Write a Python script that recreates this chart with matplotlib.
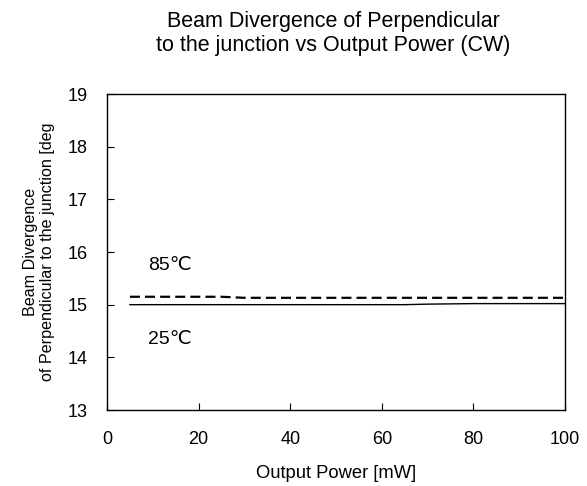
import matplotlib
matplotlib.use("Agg")
import matplotlib.pyplot as plt

plt.rcParams["font.family"] = ["Liberation Sans", "DejaVu Sans"]

# ---------------- DATA ----------------
power = [5, 10, 15, 20, 25, 30, 35, 40, 45, 50, 55, 60, 65, 70, 75, 80, 85, 90, 95, 100]
div_85 = [15.15, 15.15, 15.15, 15.15, 15.15, 15.13, 15.13, 15.13, 15.13, 15.13,
          15.13, 15.13, 15.13, 15.13, 15.13, 15.13, 15.13, 15.13, 15.13, 15.13]
div_25 = [15.0, 15.0, 15.0, 15.0, 15.0, 15.0, 15.0, 15.0, 15.0, 15.0,
          15.0, 15.0, 15.0, 15.01, 15.015, 15.02, 15.02, 15.02, 15.02, 15.02]

fig = plt.figure(figsize=(5.87, 4.86), dpi=100)
ax = fig.add_axes([107 / 587, 1 - 410 / 486, (565 - 107) / 587, (410 - 94) / 486])

ax.plot(power, div_85, color="black", linestyle=(0, (4.5, 2.3)), linewidth=1.6)
ax.plot(power, div_25, color="black", linewidth=1.0)

ax.text(9, 15.75, "85\u2103", fontsize=14, va="center")
ax.text(9, 14.33, "25\u2103", fontsize=14, va="center")

ax.set_xlim(0, 100)
ax.set_ylim(13, 19)
ax.set_xticks(range(0, 101, 20))
ax.set_yticks(range(13, 20))
ax.tick_params(direction="in", length=5, labelsize=13)
ax.tick_params(axis="x", pad=15)
ax.tick_params(axis="y", pad=14)
for s in ax.spines.values():
    s.set_linewidth(1.0)

ax.set_xlabel("Output Power [mW]", fontsize=13.2, labelpad=12)
ax.set_ylabel("Beam Divergence\nof Perpendicular to the junction [deg", fontsize=11.6, labelpad=9)
fig.suptitle("Beam Divergence of Perpendicular\nto the junction vs Output Power (CW)",
             fontsize=15.5, x=333 / 587, y=0.977)

fig.savefig("out.png", dpi=100)
